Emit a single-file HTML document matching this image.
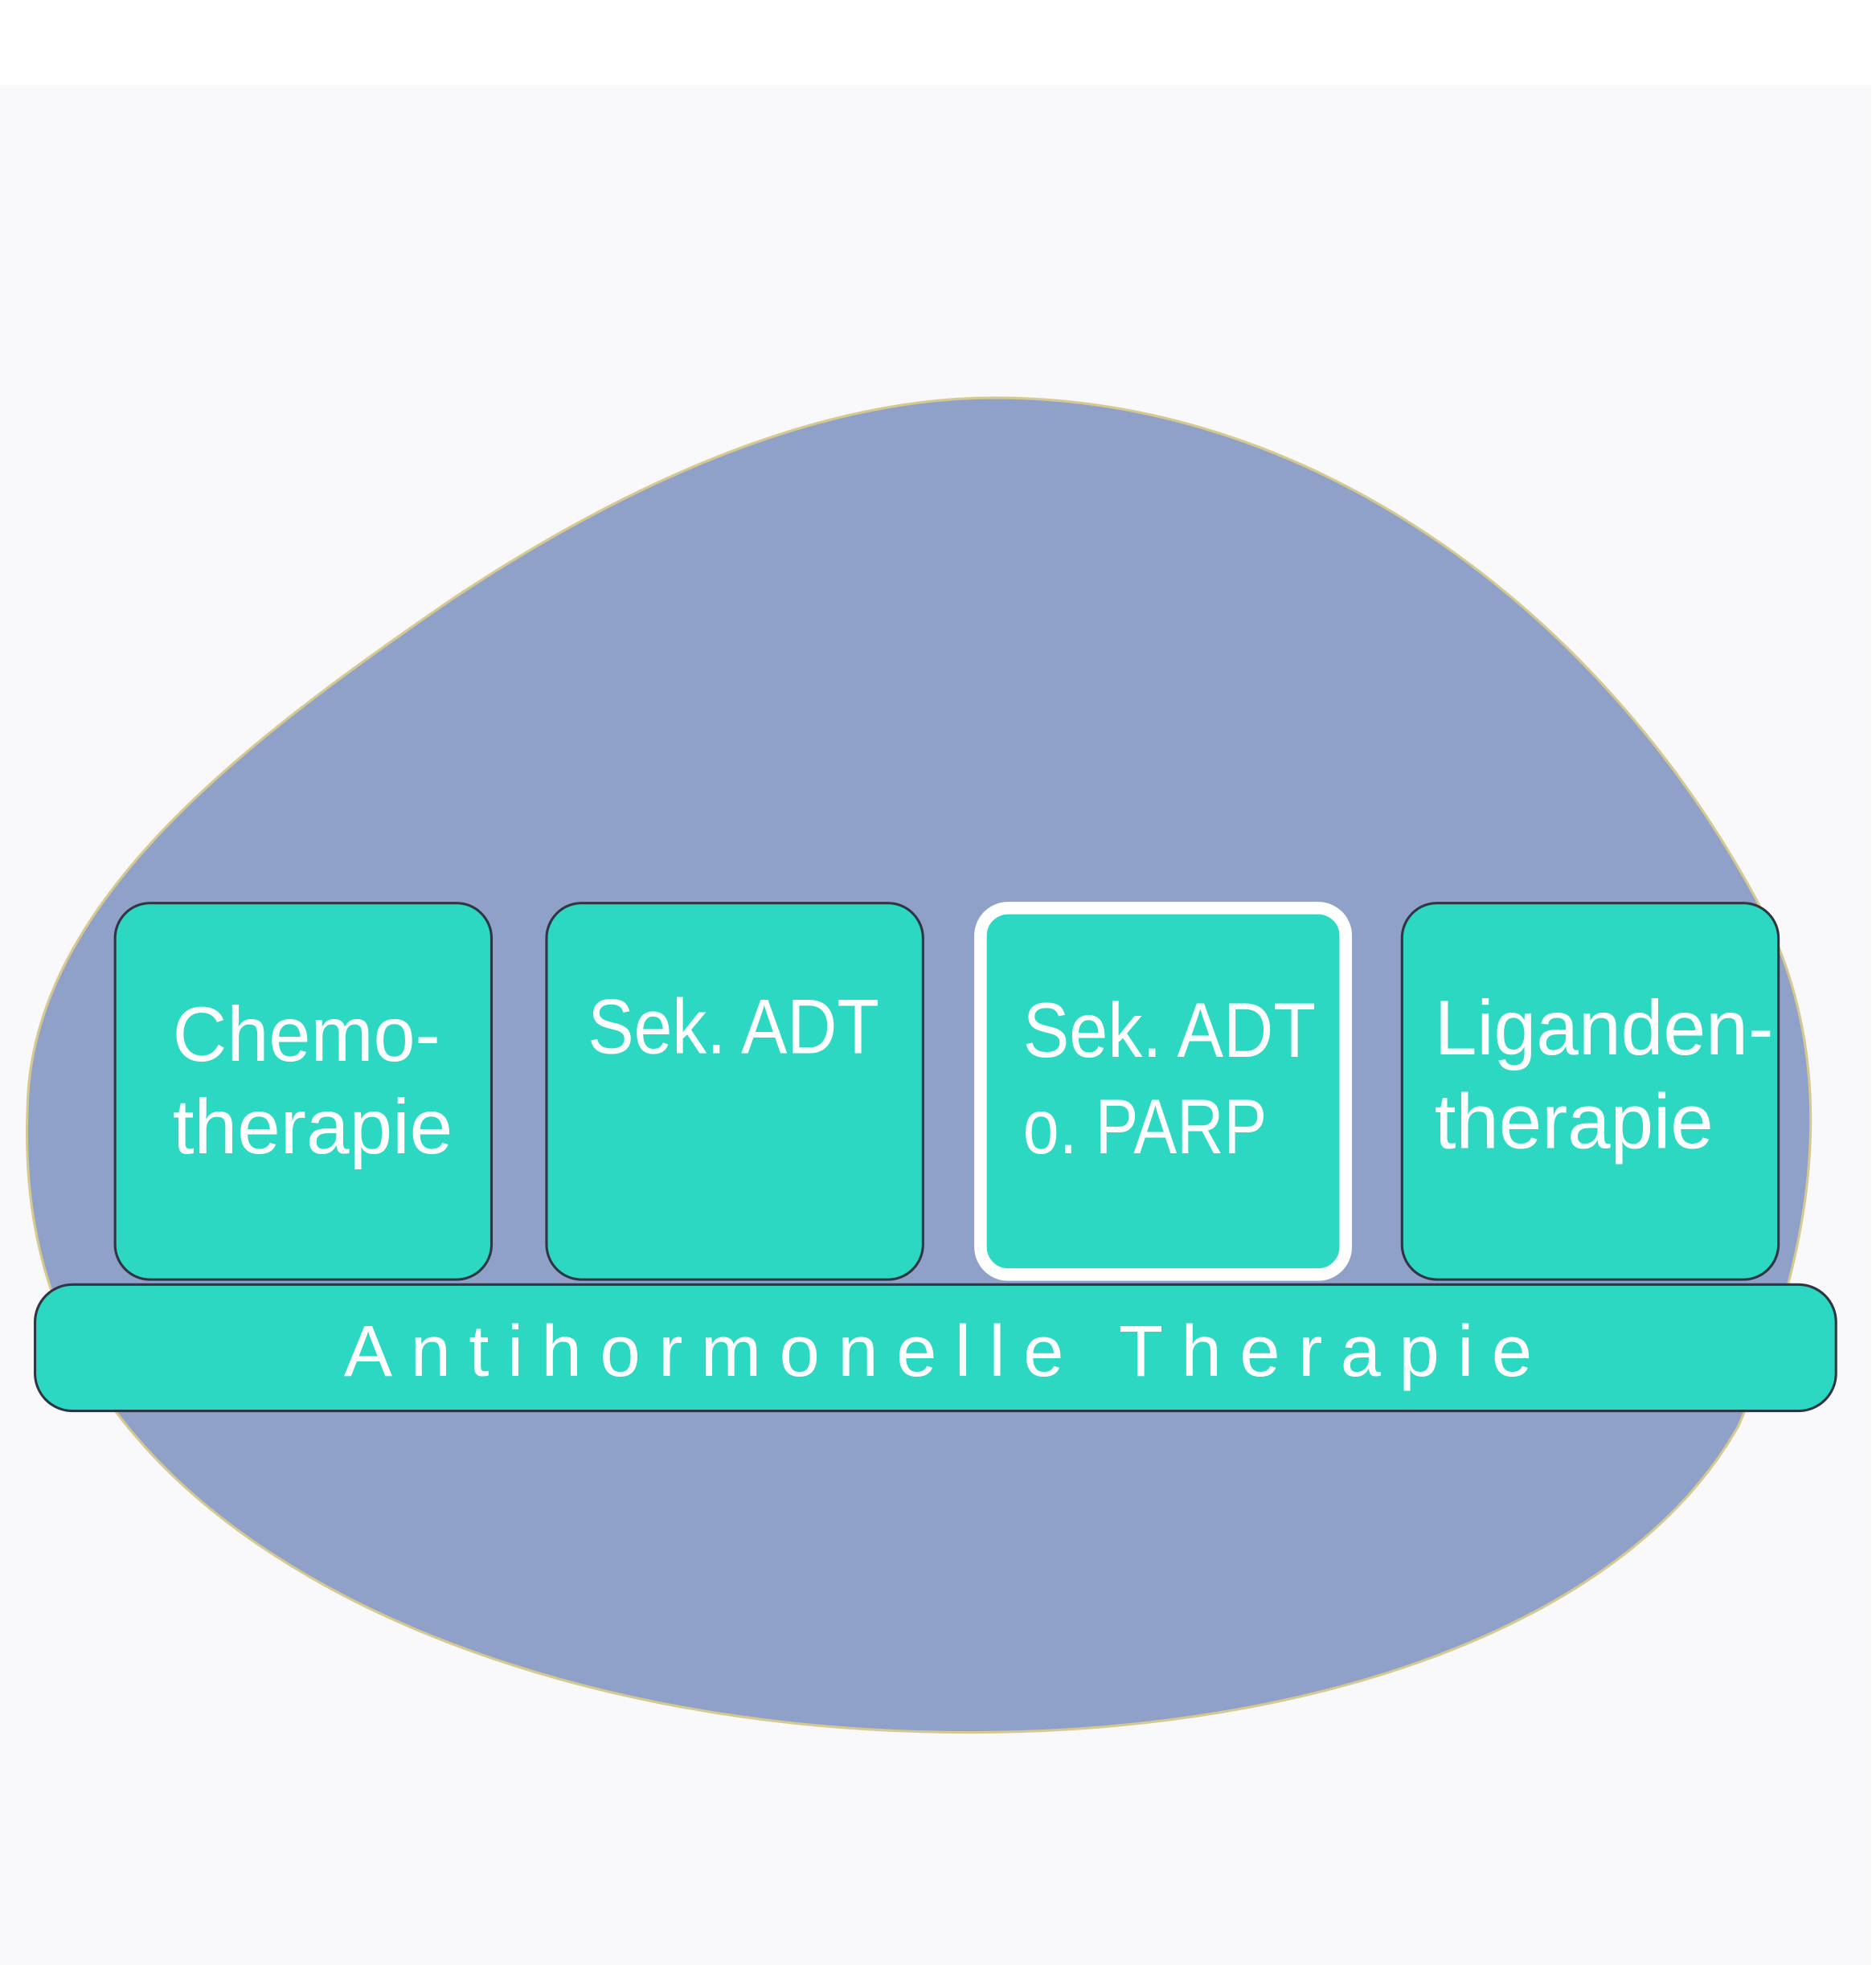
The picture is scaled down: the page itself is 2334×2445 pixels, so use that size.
<!DOCTYPE html>
<html><head><meta charset="utf-8"><style>
html,body{margin:0;padding:0;background:#fff;}
svg{display:block;}
text{font-family:"Liberation Sans",sans-serif;fill:#fff;}
</style></head><body>
<svg width="2334" height="2445" viewBox="0 0 1500 1571" preserveAspectRatio="none" xmlns="http://www.w3.org/2000/svg">
<rect x="0" y="0" width="1500" height="1571" fill="#ffffff"/>
<rect x="0" y="68" width="1496" height="1503" fill="#f9f9fb"/>
<path d="M795,318 C1060,318 1290,500 1410,730 C1470,850 1455,990 1390,1140 C1300,1300 1050,1385 775,1385 C480,1385 230,1290 110,1150 C40,1070 18,980 22,885 C25,720 200,590 360,480 C510,380 660,318 795,318 Z" fill="#8fa0c9" stroke="#d6c98f" stroke-width="2"/>
<g stroke="#2f3542" stroke-width="2" fill="#2cd8c1">
<rect x="92" y="722" width="301" height="301" rx="28"/>
<rect x="437" y="722" width="301" height="301" rx="28"/>
<rect x="1121" y="722" width="301" height="301" rx="28"/>
<rect x="28" y="1027" width="1440" height="101" rx="30"/>
</g>
<rect x="784" y="726" width="292" height="293" rx="22" fill="#2cd8c1" stroke="#ffffff" stroke-width="10"/>
<g font-size="62">
<text x="138" y="848" textLength="214" lengthAdjust="spacingAndGlyphs">Chemo-</text>
<text x="138" y="922" textLength="224" lengthAdjust="spacingAndGlyphs">therapie</text>
<text x="470" y="842" textLength="233" lengthAdjust="spacingAndGlyphs">Sek. ADT</text>
<text x="818" y="845" textLength="234" lengthAdjust="spacingAndGlyphs">Sek. ADT</text>
<text x="818" y="922" textLength="195" lengthAdjust="spacingAndGlyphs">o. PARP</text>
<text x="1147" y="843" textLength="271" lengthAdjust="spacingAndGlyphs">Liganden-</text>
<text x="1147" y="918" textLength="223" lengthAdjust="spacingAndGlyphs">therapie</text>
</g>
<text x="275" y="1100" font-size="58" textLength="950" lengthAdjust="spacing">Antihormonelle Therapie</text>
</svg>
</body></html>
